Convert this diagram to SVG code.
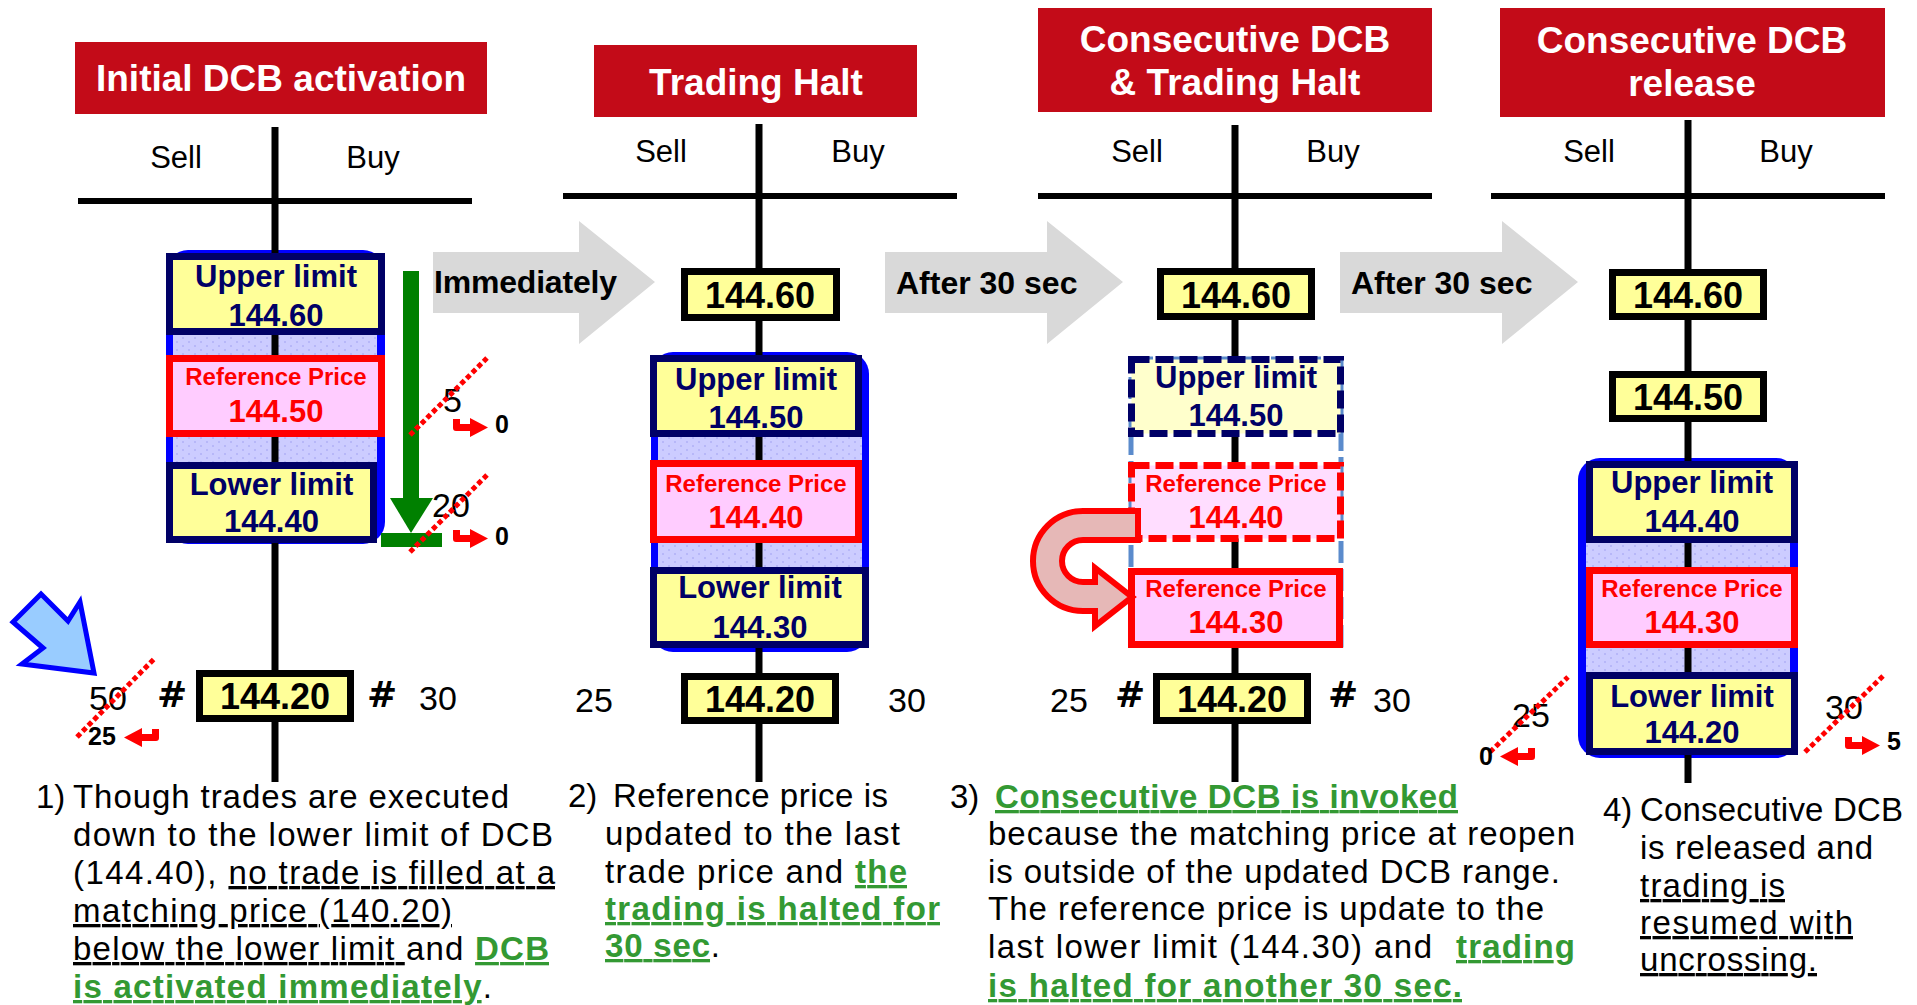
<svg xmlns="http://www.w3.org/2000/svg" xmlns:xlink="http://www.w3.org/1999/xlink" width="1917" height="1005" viewBox="0 0 1917 1005">
<style>
.title{font:bold 37px "Liberation Sans",Arial,sans-serif;fill:#fff;text-anchor:middle}
.hdr{font:31px "Liberation Sans",Arial,sans-serif;fill:#000;text-anchor:middle}
.lbl{font:bold 31px "Liberation Sans",Arial,sans-serif;fill:#000066;text-anchor:middle}
.rp{font:bold 24px "Liberation Sans",Arial,sans-serif;fill:#ff0000;text-anchor:middle}
.rv{font:bold 31px "Liberation Sans",Arial,sans-serif;fill:#ff0000;text-anchor:middle}
.price{font:bold 36px "Liberation Sans",Arial,sans-serif;fill:#000;text-anchor:middle}
.qty{font:34px "Liberation Sans",Arial,sans-serif;fill:#000}
.sm{font:bold 25px "Liberation Sans",Arial,sans-serif;fill:#000}
.hash{font:bold 36px "DejaVu Sans",sans-serif;fill:#000}
.arrtxt{font:bold 32px "Liberation Sans",Arial,sans-serif;fill:#000}
.para{font:33px "Liberation Sans",Arial,sans-serif;fill:#000}
.g{fill:#339933;font-weight:bold}
.u{text-decoration:underline}
.tline{stroke:#000;stroke-width:7;fill:none}
.hline{stroke:#000;stroke-width:6;fill:none}
.navy{fill:#ffff99;stroke:#000066;stroke-width:7}
.red{fill:#ffccff;stroke:#ff0000;stroke-width:7}
.blk{fill:#ffff99;stroke:#000;stroke-width:7}
.navyd{fill:#ffffcc;stroke:#000066;stroke-width:7;stroke-dasharray:18 6}
.redd{fill:#ffddff;stroke:#ff0000;stroke-width:7;stroke-dasharray:18 6}
.blue{fill:#0000ff}
.lav{fill:url(#dots)}
.strike{stroke:#ff0000;stroke-width:5;stroke-dasharray:5 3;fill:none}
.gray{fill:#d9d9d9}
.bent{fill:#ff0000}
</style>
<defs>
<pattern id="dots" width="12" height="8" patternUnits="userSpaceOnUse">
<rect width="12" height="8" fill="#ccccff"/>
<circle cx="3" cy="2" r="0.8" fill="#9c9cf0"/>
<circle cx="9" cy="6" r="0.8" fill="#9c9cf0"/>
</pattern>
<path id="bentR" d="M0 1 L7 1 L7 6 L17 6 L17 0 L35 9.5 L17 19 L17 13 L3 13 Q0 13 0 10 Z"/>
</defs>
<rect width="1917" height="1005" fill="#fff"/>

<!-- Connectors -->
<g id="connectors">
<g id="arrow-immediately">
<polygon class="gray" points="433,252 579,252 579,221 655,282 579,344 579,313 433,313"/>
<text class="arrtxt" x="434" y="293" textLength="183">Immediately</text>
</g>
<g id="arrow-after30-1">
<polygon class="gray" points="885,252 1047,252 1047,221 1123,282 1047,344 1047,313 885,313"/>
<text class="arrtxt" x="896" y="294">After 30 sec</text>
</g>
<g id="arrow-after30-2">
<polygon class="gray" points="1340,252 1502,252 1502,221 1578,282 1502,344 1502,313 1340,313"/>
<text class="arrtxt" x="1351" y="294">After 30 sec</text>
</g>
</g>

<!-- Panel 1 -->
<g id="panel1">
<g id="p1-title"><rect x="75" y="42" width="412" height="72" fill="#c30b18"/>
<text class="title" x="281" y="91">Initial DCB activation</text></g>
<text class="hdr" x="176" y="168">Sell</text>
<text class="hdr" x="373" y="168">Buy</text>
<line class="hline" x1="78" y1="201" x2="472" y2="201"/>
<rect class="blue" x="166" y="250" width="219" height="294" rx="22"/>
<rect class="lav" x="173" y="257" width="204" height="280"/>
<line class="tline" x1="275" y1="127" x2="275" y2="782"/>
<g id="p1-upper"><rect class="navy" x="169.5" y="256.5" width="212" height="75"/>
<text class="lbl" x="276" y="287">Upper limit</text><text class="lbl" x="276" y="326">144.60</text></g>
<g id="p1-ref"><rect class="red" x="169.5" y="358.5" width="212" height="75"/>
<text class="rp" x="276" y="385">Reference Price</text><text class="rv" x="276" y="422">144.50</text></g>
<g id="p1-lower"><rect class="navy" x="169.5" y="465.5" width="204" height="74"/>
<text class="lbl" x="271.5" y="495">Lower limit</text><text class="lbl" x="271.5" y="532">144.40</text></g>
<g id="p1-green-arrow" fill="#008000">
<rect x="403" y="271" width="16" height="228"/>
<polygon points="390,498 433,498 411,533"/>
<rect x="381" y="533" width="61" height="14"/>
</g>
<g id="p1-q5">
<text class="qty" x="443" y="412">5</text>
<line class="strike" x1="410" y1="435" x2="487" y2="358"/>
<use href="#bentR" class="bent" x="453" y="418"/>
<text class="sm" x="495" y="433">0</text>
</g>
<g id="p1-q20">
<text class="qty" x="432" y="517">20</text>
<line class="strike" x1="410" y1="552" x2="487" y2="475"/>
<use href="#bentR" class="bent" x="453" y="529"/>
<text class="sm" x="495" y="545">0</text>
</g>
<g id="p1-blue-arrow">
<polygon points="41,594 68,621 80,602 94,673 22,664 43,648 13,622" fill="#99ccff" stroke="#0000ff" stroke-width="5" stroke-linejoin="miter"/>
</g>
<g id="p1-match">
<text class="qty" x="89" y="710">50</text>
<line class="strike" x1="77" y1="737" x2="155" y2="658"/>
<text class="sm" x="88" y="745">25</text>
<use href="#bentR" class="bent" transform="translate(159,728) scale(-1,1)"/>
<text class="hash" x="157" y="707">#</text>
<rect class="blk" x="199.5" y="673.5" width="151" height="45"/>
<text class="price" x="275" y="709">144.20</text>
<text class="hash" x="367" y="707">#</text>
<text class="qty" x="419" y="710">30</text>
</g>
<g id="p1-note">
<text class="para" x="36" y="808">1)</text>
<text class="para" x="73" y="808" textLength="436">Though trades are executed</text>
<text class="para" x="73" y="846" textLength="480">down to the lower limit of DCB</text>
<text class="para" x="73" y="884" textLength="482">(144.40), <tspan class="u">no trade is filled at a</tspan></text>
<text class="para" x="73" y="922" textLength="379"><tspan class="u">matching price (140.20)</tspan></text>
<text class="para" x="73" y="960" textLength="476"><tspan class="u">below the lower limit </tspan>and <tspan class="g u">DCB</tspan></text>
<text class="para" x="73" y="998" textLength="419"><tspan class="g u">is activated immediately</tspan>.</text>
</g>
</g>

<!-- Panel 2 -->
<g id="panel2">
<g id="p2-title"><rect x="594" y="45" width="323" height="72" fill="#c30b18"/>
<text class="title" x="756" y="95">Trading Halt</text></g>
<text class="hdr" x="661" y="162">Sell</text>
<text class="hdr" x="858" y="162">Buy</text>
<line class="hline" x1="563" y1="196" x2="957" y2="196"/>
<rect class="blue" x="651" y="352" width="218" height="300" rx="22"/>
<rect class="lav" x="658" y="359" width="204" height="286"/>
<line class="tline" x1="759" y1="124" x2="759" y2="782"/>
<g id="p2-p6060"><rect class="blk" x="684.5" y="271.5" width="152" height="46"/>
<text class="price" x="760" y="308">144.60</text></g>
<g id="p2-upper"><rect class="navy" x="653.5" y="358.5" width="205" height="75"/>
<text class="lbl" x="756" y="390">Upper limit</text><text class="lbl" x="756" y="428">144.50</text></g>
<g id="p2-ref"><rect class="red" x="653.5" y="463.5" width="205" height="76"/>
<text class="rp" x="756" y="492">Reference Price</text><text class="rv" x="756" y="528">144.40</text></g>
<g id="p2-lower"><rect class="navy" x="653.5" y="570.5" width="212" height="74"/>
<text class="lbl" x="760" y="598">Lower limit</text><text class="lbl" x="760" y="638">144.30</text></g>
<g id="p2-match">
<text class="qty" x="575" y="712">25</text>
<rect class="blk" x="684.5" y="676.5" width="151" height="44"/>
<text class="price" x="760" y="712">144.20</text>
<text class="qty" x="888" y="712">30</text>
</g>
<g id="p2-note">
<text class="para" x="568" y="807">2)</text>
<text class="para" x="613" y="807" textLength="275">Reference price is</text>
<text class="para" x="605" y="845" textLength="295">updated to the last</text>
<text class="para" x="605" y="883" textLength="302">trade price and <tspan class="g u">the</tspan></text>
<text class="para" x="605" y="920" textLength="335"><tspan class="g u">trading is halted for</tspan></text>
<text class="para" x="605" y="957" textLength="115"><tspan class="g u">30 sec</tspan>.</text>
</g>
</g>

<!-- Panel 3 -->
<g id="panel3">
<g id="p3-title"><rect x="1038" y="8" width="394" height="104" fill="#c30b18"/>
<text class="title" x="1235" y="52">Consecutive DCB</text>
<text class="title" x="1235" y="95">&amp; Trading Halt</text></g>
<text class="hdr" x="1137" y="162">Sell</text>
<text class="hdr" x="1333" y="162">Buy</text>
<line class="hline" x1="1038" y1="196" x2="1432" y2="196"/>
<line class="tline" x1="1235" y1="125" x2="1235" y2="782"/>
<rect x="1131" y="359" width="210" height="286" fill="none" stroke="#5b8bcc" stroke-width="5" stroke-dasharray="22 6"/>
<g id="p3-p6060"><rect class="blk" x="1160.5" y="271.5" width="151" height="45"/>
<text class="price" x="1236" y="308">144.60</text></g>
<g id="p3-upper-old"><rect class="navyd" x="1131.5" y="359.5" width="209" height="74"/>
<text class="lbl" x="1236" y="388">Upper limit</text><text class="lbl" x="1236" y="426">144.50</text></g>
<g id="p3-ref-old"><rect class="redd" x="1131.5" y="465.5" width="209" height="73"/>
<text class="rp" x="1236" y="492">Reference Price</text><text class="rv" x="1236" y="528">144.40</text></g>
<g id="p3-ref-new"><rect class="red" x="1131.5" y="571.5" width="208" height="73"/>
<text class="rp" x="1236" y="597">Reference Price</text><text class="rv" x="1236" y="633">144.30</text></g>
<g id="p3-uturn">
<path d="M1138 511 L1083 511 A50 50 0 0 0 1083 611 L1095 611 L1095 626 L1132 597 L1095 568 L1095 582 L1083 582 A21 21 0 0 1 1083 540 L1138 540 Z" fill="#e6b8b7" stroke="#ff0000" stroke-width="6" stroke-linejoin="miter"/>
</g>
<g id="p3-match">
<text class="qty" x="1050" y="712">25</text>
<text class="hash" x="1115" y="707">#</text>
<rect class="blk" x="1156.5" y="676.5" width="151" height="44"/>
<text class="price" x="1232" y="712">144.20</text>
<text class="hash" x="1328" y="707">#</text>
<text class="qty" x="1373" y="712">30</text>
</g>
<g id="p3-note">
<text class="para" x="950" y="808">3)</text>
<text class="para" x="995" y="808" textLength="463"><tspan class="g u">Consecutive DCB is invoked</tspan></text>
<text class="para" x="988" y="845" textLength="587">because the matching price at reopen</text>
<text class="para" x="988" y="883" textLength="572">is outside of the updated DCB range.</text>
<text class="para" x="988" y="920" textLength="556">The reference price is update to the</text>
<text class="para" x="988" y="958" textLength="444">last lower limit (144.30) and</text>
<text class="para" x="1456" y="958" textLength="119"><tspan class="g u">trading</tspan></text>
<text class="para" x="988" y="997" textLength="474"><tspan class="g u">is halted for another 30 sec.</tspan></text>
</g>
</g>

<!-- Panel 4 -->
<g id="panel4">
<g id="p4-title"><rect x="1500" y="8" width="385" height="109" fill="#c30b18"/>
<text class="title" x="1692" y="53">Consecutive DCB</text>
<text class="title" x="1692" y="96">release</text></g>
<text class="hdr" x="1589" y="162">Sell</text>
<text class="hdr" x="1786" y="162">Buy</text>
<line class="hline" x1="1491" y1="196" x2="1885" y2="196"/>
<rect class="blue" x="1578" y="458" width="220" height="300" rx="22"/>
<rect class="lav" x="1586" y="465" width="204" height="286"/>
<line class="tline" x1="1688" y1="120" x2="1688" y2="783"/>
<g id="p4-p6060"><rect class="blk" x="1612.5" y="272.5" width="151" height="44"/>
<text class="price" x="1688" y="308">144.60</text></g>
<g id="p4-p6050"><rect class="blk" x="1612.5" y="374.5" width="151" height="44"/>
<text class="price" x="1688" y="410">144.50</text></g>
<g id="p4-upper"><rect class="navy" x="1589.5" y="464.5" width="205" height="75"/>
<text class="lbl" x="1692" y="493">Upper limit</text><text class="lbl" x="1692" y="532">144.40</text></g>
<g id="p4-ref"><rect class="red" x="1589.5" y="570.5" width="205" height="74"/>
<text class="rp" x="1692" y="597">Reference Price</text><text class="rv" x="1692" y="633">144.30</text></g>
<g id="p4-lower"><rect class="navy" x="1589.5" y="675.5" width="205" height="76"/>
<text class="lbl" x="1692" y="707">Lower limit</text><text class="lbl" x="1692" y="743">144.20</text></g>
<g id="p4-q25">
<text class="qty" x="1512" y="727">25</text>
<line class="strike" x1="1490" y1="752" x2="1568" y2="677"/>
<text class="sm" x="1479" y="765">0</text>
<use href="#bentR" class="bent" transform="translate(1535,747) scale(-1,1)"/>
</g>
<g id="p4-q30">
<text class="qty" x="1825" y="719">30</text>
<line class="strike" x1="1805" y1="752" x2="1883" y2="676"/>
<use href="#bentR" class="bent" x="1845" y="736"/>
<text class="sm" x="1887" y="750">5</text>
</g>
<g id="p4-note">
<text class="para" x="1603" y="821">4)</text>
<text class="para" x="1640" y="821" textLength="263">Consecutive DCB</text>
<text class="para" x="1640" y="859" textLength="233">is released and</text>
<text class="para" x="1640" y="897" textLength="145"><tspan class="u">trading is</tspan></text>
<text class="para" x="1640" y="934" textLength="213"><tspan class="u">resumed with</tspan></text>
<text class="para" x="1640" y="971" textLength="177"><tspan class="u">uncrossing.</tspan></text>
</g>
</g>
</svg>
